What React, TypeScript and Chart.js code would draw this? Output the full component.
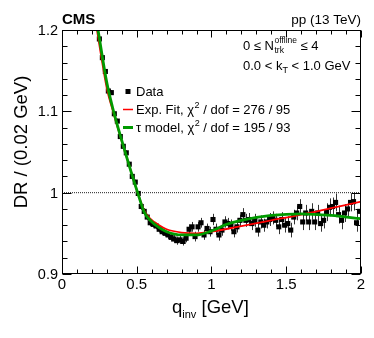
import React, { useEffect, useRef } from 'react';
import { Chart, registerables } from 'chart.js';

Chart.register(...registerables);

const FONT = '"Liberation Sans", Arial, Helvetica, sans-serif';

// bin centres (GeV), 0.02 GeV bins
const qBins = [
  0.25, 0.27, 0.29, 0.31, 0.33, 0.35, 0.37, 0.39, 0.41, 0.43, 0.45, 0.47, 0.49, 0.51, 0.53, 0.55, 0.57, 0.59, 0.61, 0.63,
  0.65, 0.67, 0.69, 0.71, 0.73, 0.75, 0.77, 0.79, 0.81, 0.83, 0.85, 0.87, 0.89, 0.91, 0.93, 0.95, 0.97, 0.99, 1.01, 1.03,
  1.05, 1.07, 1.09, 1.11, 1.13, 1.15, 1.17, 1.19, 1.21, 1.23, 1.25, 1.27, 1.29, 1.31, 1.33, 1.35, 1.37, 1.39, 1.41, 1.43,
  1.45, 1.47, 1.49, 1.51, 1.53, 1.55, 1.57, 1.59, 1.61, 1.63, 1.65, 1.67, 1.69, 1.71, 1.73, 1.75, 1.77, 1.79, 1.81, 1.83,
  1.85, 1.87, 1.89, 1.91, 1.93, 1.95, 1.97, 1.99,
];

const drValues = [
  1.189, 1.166, 1.149, 1.125, 1.123, 1.097, 1.088, 1.069, 1.057, 1.049, 1.035, 1.02, 1.013, 0.999, 0.983, 0.977, 0.97, 0.963, 0.961, 0.959,
  0.955, 0.952, 0.95, 0.948, 0.945, 0.943, 0.941, 0.942, 0.94, 0.944, 0.955, 0.958, 0.946, 0.958, 0.963, 0.948, 0.956, 0.952, 0.967, 0.955,
  0.948, 0.954, 0.964, 0.962, 0.96, 0.952, 0.958, 0.966, 0.973, 0.966, 0.967, 0.962, 0.966, 0.954, 0.964, 0.96, 0.964, 0.967, 0.969, 0.966,
  0.958, 0.967, 0.96, 0.962, 0.954, 0.97, 0.975, 0.983, 0.964, 0.975, 0.964, 0.977, 0.964, 0.975, 0.962, 0.966, 0.976, 0.982, 0.983, 0.988,
  0.973, 0.966, 0.975, 0.98, 0.988, 0.989, 0.963, 0.977,
];

const drErrors = [
  0.003, 0.003, 0.003, 0.003, 0.003, 0.003, 0.003, 0.003, 0.003, 0.003, 0.003, 0.003, 0.003, 0.003, 0.004, 0.004, 0.004, 0.004, 0.004, 0.004,
  0.004, 0.004, 0.004, 0.005, 0.005, 0.005, 0.005, 0.005, 0.005, 0.005, 0.006, 0.006, 0.006, 0.006, 0.006, 0.006, 0.006, 0.006, 0.007, 0.007,
  0.007, 0.007, 0.007, 0.007, 0.007, 0.007, 0.007, 0.007, 0.008, 0.008, 0.008, 0.008, 0.008, 0.008, 0.008, 0.008, 0.008, 0.008, 0.008, 0.008,
  0.009, 0.009, 0.009, 0.009, 0.009, 0.009, 0.009, 0.009, 0.01, 0.01, 0.01, 0.01, 0.01, 0.01, 0.01, 0.01, 0.011, 0.011, 0.011, 0.011,
  0.011, 0.011, 0.011, 0.011, 0.011, 0.011, 0.011, 0.011,
];

// exponential fit curve (red)
const expFitQ = [0.234, 0.26, 0.3, 0.341, 0.4, 0.45, 0.506, 0.55, 0.59, 0.65, 0.7, 0.8, 0.9, 1.0, 1.2, 1.4, 1.6, 1.8, 2.0];
const expFitDR = [1.2, 1.17, 1.128, 1.1, 1.063, 1.033, 1.0, 0.978, 0.968, 0.96, 0.955, 0.951, 0.95, 0.952, 0.959, 0.966, 0.973, 0.981, 0.989];

// tau model curve (green)
const tauQ = [0.241, 0.3, 0.345, 0.4, 0.45, 0.506, 0.55, 0.59, 0.65, 0.7, 0.8, 0.9, 1.0, 1.1, 1.2, 1.4, 1.6, 1.8, 2.0];
const tauDR = [1.2, 1.135, 1.1, 1.064, 1.033, 1.0, 0.976, 0.966, 0.957, 0.952, 0.948, 0.948, 0.953, 0.961, 0.966, 0.972, 0.974, 0.972, 0.968];

const xTickValues = [0, 0.5, 1, 1.5, 2];
const xTickLabels = ['0', '0.5', '1', '1.5', '2'];
const yTickValues = [0.9, 1.0, 1.1, 1.2];
const yTickLabels = ['0.9', '1', '1.1', '1.2'];
const xMinorStep = 0.1;
const yMinorStep = 0.02;

const legendLabels = ['Data', 'Exp. Fit, χ', 'τ model, χ'];
const legendTails = ['', ' / dof = 276 / 95', ' / dof = 195 / 93'];

const RED = '#ff0000';
const GREEN = '#009a00';

function font(size: number, bold = false) {
  return `${bold ? 'bold ' : ''}${size}px ${FONT}`;
}

const errorBarPlugin = {
  id: 'errorBars',
  beforeDatasetsDraw(chart: any) {
    const { ctx, scales } = chart;
    const xs = scales.x;
    const ys = scales.y;
    ctx.save();
    ctx.strokeStyle = '#333';
    ctx.lineWidth = 1;
    ctx.beginPath();
    for (let i = 0; i < qBins.length; i++) {
      const px = Math.round(xs.getPixelForValue(qBins[i])) + 0.5;
      const y1 = ys.getPixelForValue(drValues[i] - drErrors[i]);
      const y2 = ys.getPixelForValue(drValues[i] + drErrors[i]);
      ctx.moveTo(px, y1);
      ctx.lineTo(px, y2);
    }
    ctx.stroke();
    ctx.restore();
  },
};

const decorPlugin = {
  id: 'decor',
  afterDraw(chart: any) {
    const { ctx, chartArea: a, scales } = chart;
    const xs = scales.x;
    const ys = scales.y;
    const L = Math.round(a.left) + 0.5;
    const R = Math.round(a.right) - 0.5;
    const T = Math.round(a.top) + 0.5;
    const B = Math.round(a.bottom) - 0.5;
    ctx.save();
    ctx.strokeStyle = '#000';
    ctx.lineWidth = 1;
    ctx.strokeRect(L, T, R - L, B - T);

    // ticks
    ctx.beginPath();
    for (let v = 0; v <= 2 + 1e-9; v += xMinorStep) {
      const major = xTickValues.some((t) => Math.abs(t - v) < 1e-6);
      const len = major ? 7 : 4;
      const px = Math.round(xs.getPixelForValue(v)) + 0.5;
      ctx.moveTo(px, B);
      ctx.lineTo(px, B - len);
      ctx.moveTo(px, T);
      ctx.lineTo(px, T + len);
    }
    for (let v = 0.9; v <= 1.2 + 1e-9; v += yMinorStep) {
      const major = yTickValues.some((t) => Math.abs(t - v) < 1e-6);
      const len = major ? 9 : 5;
      const py = Math.round(ys.getPixelForValue(v)) + 0.5;
      ctx.moveTo(L, py);
      ctx.lineTo(L + len, py);
      ctx.moveTo(R, py);
      ctx.lineTo(R - len, py);
    }
    ctx.stroke();

    ctx.fillStyle = '#000';
    // tick labels
    ctx.font = font(15);
    ctx.textAlign = 'center';
    ctx.textBaseline = 'alphabetic';
    xTickValues.forEach((v, i) => {
      ctx.fillText(xTickLabels[i], xs.getPixelForValue(v), a.bottom + 15);
    });
    ctx.font = font(14.5);
    ctx.textAlign = 'right';
    yTickValues.forEach((v, i) => {
      ctx.fillText(yTickLabels[i], a.left - 4, ys.getPixelForValue(v) + 5);
    });

    // axis titles
    ctx.textAlign = 'left';
    ctx.font = font(18.5);
    const qx = 172;
    const qy = 313;
    ctx.fillText('q', qx, qy);
    let w = ctx.measureText('q').width;
    ctx.font = font(11);
    ctx.fillText('inv', qx + w, qy + 5);
    w += ctx.measureText('inv').width;
    ctx.font = font(18.5);
    ctx.fillText(' [GeV]', qx + w, qy);

    ctx.save();
    ctx.translate(27, 142);
    ctx.rotate(-Math.PI / 2);
    ctx.textAlign = 'center';
    ctx.font = font(18.5);
    ctx.fillText('DR / (0.02 GeV)', 0, 0);
    ctx.restore();

    // header
    ctx.textAlign = 'left';
    ctx.font = font(15, true);
    ctx.fillText('CMS', a.left, 24);
    ctx.textAlign = 'right';
    ctx.font = font(13.5);
    ctx.fillText('pp (13 TeV)', a.right, 24);

    // selection text
    ctx.textAlign = 'left';
    let sx = 243;
    const s1 = 50;
    ctx.font = font(13);
    ctx.fillText('0 ≤ N', sx, s1);
    sx += ctx.measureText('0 ≤ N').width + 0.5;
    ctx.font = font(8.5);
    ctx.fillText('offline', sx, s1 - 7);
    const wo = ctx.measureText('offline').width;
    ctx.fillText('trk', sx, s1 + 3);
    sx += wo;
    ctx.font = font(13);
    ctx.fillText(' ≤ 4', sx, s1);

    sx = 243;
    const s2 = 70;
    ctx.fillText('0.0 < k', sx, s2);
    sx += ctx.measureText('0.0 < k').width;
    ctx.font = font(9);
    ctx.fillText('T', sx, s2 + 3);
    sx += ctx.measureText('T').width;
    ctx.font = font(13);
    ctx.fillText(' < 1.0 GeV', sx, s2);

    // legend
    const lx = 136;
    const rows = [96, 114, 132];
    ctx.fillRect(125.5, 89, 5, 5);
    ctx.strokeStyle = RED;
    ctx.lineWidth = 1.5;
    ctx.beginPath();
    ctx.moveTo(123, 109.5);
    ctx.lineTo(133, 109.5);
    ctx.stroke();
    ctx.strokeStyle = GREEN;
    ctx.lineWidth = 3;
    ctx.beginPath();
    ctx.moveTo(123, 127.5);
    ctx.lineTo(133, 127.5);
    ctx.stroke();
    rows.forEach((yb, i) => {
      let tx = lx;
      ctx.font = font(13);
      ctx.fillText(legendLabels[i], tx, yb);
      if (legendTails[i]) {
        tx += ctx.measureText(legendLabels[i]).width;
        ctx.font = font(9);
        ctx.fillText('2', tx + 0.5, yb - 6);
        tx += ctx.measureText('2').width + 0.5;
        ctx.font = font(13);
        ctx.fillText(legendTails[i], tx, yb);
      }
    });
    ctx.restore();
  },
};

export default function App() {
  const ref = useRef<HTMLCanvasElement | null>(null);

  useEffect(() => {
    document.body.style.margin = '0';
    const canvas = ref.current;
    if (!canvas) return;
    const chart = new Chart(canvas, {
      type: 'line',
      data: {
        datasets: [
          {
            label: 'unity',
            data: [
              { x: 0, y: 1 },
              { x: 2, y: 1 },
            ],
            borderColor: '#222',
            borderWidth: 1,
            borderDash: [1, 1],
            pointRadius: 0,
            order: 5,
          },
          {
            label: 'Data',
            data: qBins.map((q, i) => ({ x: q, y: drValues[i] })),
            showLine: false,
            pointStyle: 'rect',
            pointRadius: 3.6,
            pointBackgroundColor: '#000',
            pointBorderColor: '#000',
            pointBorderWidth: 0,
            order: 3,
          },
          {
            label: 'Exp. Fit',
            data: expFitQ.map((q, i) => ({ x: q, y: expFitDR[i] })),
            borderColor: RED,
            borderWidth: 1.8,
            pointRadius: 0,
            cubicInterpolationMode: 'monotone',
            order: 2,
          },
          {
            label: 'tau model',
            data: tauQ.map((q, i) => ({ x: q, y: tauDR[i] })),
            borderColor: GREEN,
            borderWidth: 2.8,
            pointRadius: 0,
            cubicInterpolationMode: 'monotone',
            order: 1,
          },
        ],
      },
      options: {
        responsive: false,
        animation: false,
        events: [],
        layout: { padding: { left: 62, right: 13, top: 30, bottom: 64 } },
        plugins: { legend: { display: false }, tooltip: { enabled: false } },
        scales: {
          x: { type: 'linear', min: 0, max: 2, display: false },
          y: { type: 'linear', min: 0.9, max: 1.2, display: false },
        },
      },
      plugins: [errorBarPlugin, decorPlugin],
    } as any);
    return () => chart.destroy();
  }, []);

  return (
    <div style={{ width: 374, height: 338, background: '#fff' }}>
      <canvas ref={ref} width={374} height={338} />
    </div>
  );
}
